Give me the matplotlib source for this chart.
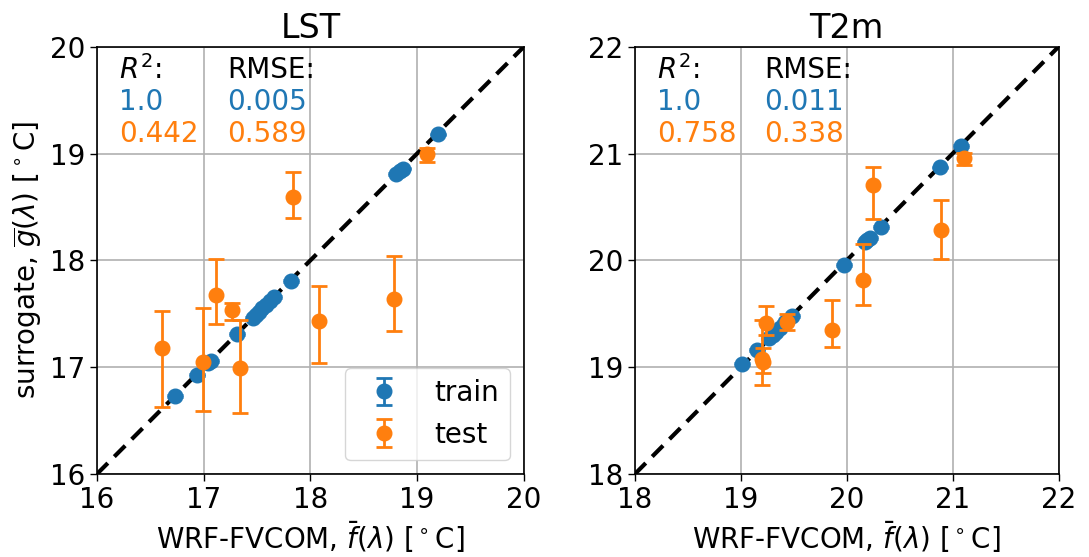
import numpy as np
from matplotlib import pyplot as plt

# LST panel
lst_train_x = [16.73, 16.94, 17.04, 17.07, 17.31, 17.46, 17.49, 17.52, 17.55, 17.58, 17.62, 17.66, 17.82, 18.80, 18.84, 18.87, 19.20]
lst_train_y = [16.73, 16.93, 17.04, 17.06, 17.31, 17.46, 17.49, 17.52, 17.55, 17.58, 17.62, 17.66, 17.81, 18.81, 18.84, 18.86, 19.18]
lst_test_x = [16.61, 16.99, 17.12, 17.27, 17.34, 17.84, 18.08, 18.78, 19.09]
lst_test_y = [17.18, 17.05, 17.68, 17.54, 16.99, 18.59, 17.43, 17.64, 19.00]
lst_test_lo = [16.63, 16.59, 17.40, 17.44, 16.57, 18.40, 17.04, 17.34, 18.92]
lst_test_hi = [17.53, 17.55, 18.01, 17.60, 17.44, 18.83, 17.76, 18.04, 19.05]

# T2m panel
t2m_train_x = [19.01, 19.15, 19.27, 19.30, 19.33, 19.37, 19.42, 19.48, 19.97, 20.17, 20.19, 20.22, 20.32, 20.88, 21.08]
t2m_train_y = [19.03, 19.16, 19.27, 19.30, 19.33, 19.37, 19.42, 19.48, 19.96, 20.17, 20.19, 20.21, 20.31, 20.87, 21.07]
t2m_test_x = [19.20, 19.21, 19.24, 19.44, 19.86, 20.15, 20.25, 20.89, 21.11]
t2m_test_y = [19.08, 19.05, 19.41, 19.42, 19.35, 19.82, 20.71, 20.28, 20.96]
t2m_test_lo = [18.83, 18.95, 19.30, 19.35, 19.19, 19.58, 20.39, 20.01, 20.89]
t2m_test_hi = [19.44, 19.18, 19.57, 19.50, 19.63, 20.15, 20.87, 20.57, 21.01]

titles = ['LST', 'T2m']
limits = [(16, 20), (18, 22)]
r2_train = ['1.0', '1.0']
r2_test = ['0.442', '0.758']
rmse_train = ['0.005', '0.011']
rmse_test = ['0.589', '0.338']

blue = '#1f77b4'
orange = '#ff7f0e'
fs = 20

fig = plt.figure(figsize=(10.89, 5.57), dpi=100)
ax1 = fig.add_axes([0.089, 0.149, 0.392, 0.767])
ax2 = fig.add_axes([0.583, 0.149, 0.389, 0.767])

panels = [
    (ax1, lst_train_x, lst_train_y, lst_test_x, lst_test_y, lst_test_lo, lst_test_hi),
    (ax2, t2m_train_x, t2m_train_y, t2m_test_x, t2m_test_y, t2m_test_lo, t2m_test_hi),
]

for i, (ax, trx, tr_y, tex, tey, telo, tehi) in enumerate(panels):
    lo, hi = limits[i]
    ax.plot([lo, hi], [lo, hi], 'k--', lw=3, dashes=(3.7, 2.2), zorder=1)

    tr_err = np.full(len(tr_y), 0.008)
    ax.errorbar(trx, tr_y, yerr=tr_err, fmt='o', color=blue, ms=10.5,
                capsize=5.5, elinewidth=2, capthick=2, label='train', zorder=3)

    tey = np.array(tey)
    yerr = [tey - np.array(telo), np.array(tehi) - tey]
    ax.errorbar(tex, tey, yerr=yerr, fmt='o', color=orange, ms=10.5,
                capsize=5.5, elinewidth=2, capthick=2, label='test', zorder=4)

    ax.set_xlim(lo, hi)
    ax.set_ylim(lo, hi)
    ticks = np.arange(lo, hi + 1)
    ax.set_xticks(ticks)
    ax.set_yticks(ticks)
    ax.grid(True, color='#b0b0b0', lw=1.2)
    ax.set_axisbelow(True)
    ax.tick_params(labelsize=fs, length=5, width=1)
    for sp in ax.spines.values():
        sp.set_linewidth(1.2)

    ax.set_title(titles[i], fontsize=24)
    ax.set_xlabel(r'WRF-FVCOM, $\bar{f}(\lambda)$ [$^\circ$C]', fontsize=fs)

    # R^2 / RMSE text block
    ax.text(0.052, 0.946, r'$R^2$:', transform=ax.transAxes, fontsize=fs, va='center')
    ax.text(0.052, 0.871, r2_train[i], transform=ax.transAxes, fontsize=fs, va='center', color=blue)
    ax.text(0.052, 0.796, r2_test[i], transform=ax.transAxes, fontsize=fs, va='center', color=orange)
    ax.text(0.305, 0.946, 'RMSE:', transform=ax.transAxes, fontsize=fs, va='center')
    ax.text(0.305, 0.871, rmse_train[i], transform=ax.transAxes, fontsize=fs, va='center', color=blue)
    ax.text(0.305, 0.796, rmse_test[i], transform=ax.transAxes, fontsize=fs, va='center', color=orange)

ax1.set_ylabel(r'surrogate, $\overline{g}(\lambda)$ [$^\circ$C]', fontsize=fs)
ax1.legend(loc='lower right', fontsize=fs)

plt.savefig('out.png', dpi=100)
